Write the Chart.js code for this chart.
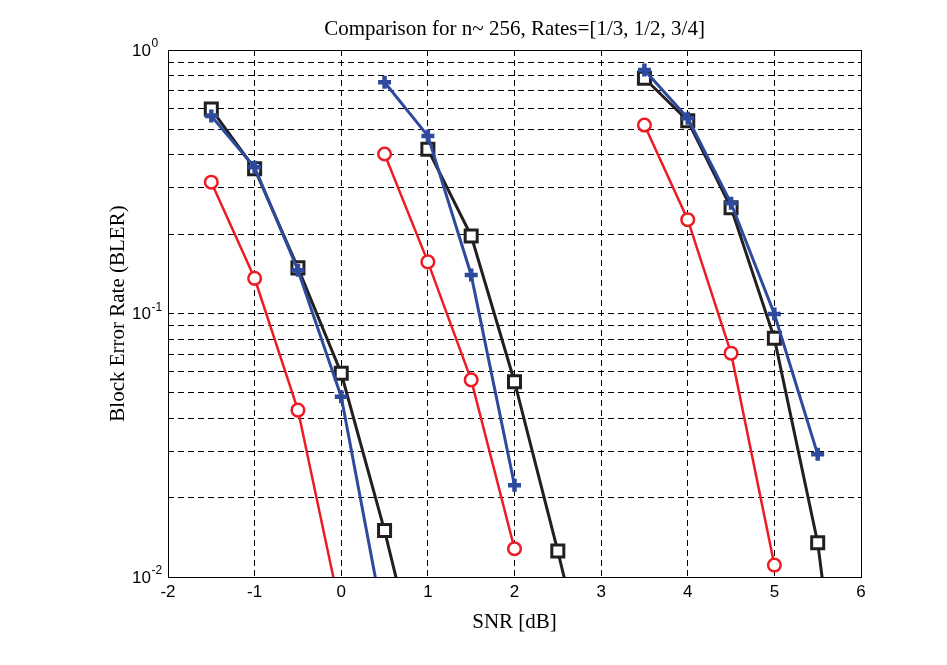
<!DOCTYPE html>
<html>
<head>
<meta charset="utf-8">
<script src="https://cdn.jsdelivr.net/npm/chart.js@4/dist/chart.umd.min.js"></script>
<style>
  html, body { margin: 0; padding: 0; background: #ffffff; }
  #c { display: block; }
</style>
</head>
<body>
<canvas id="c" width="947" height="665"></canvas>
<script>
// ---------------- data ----------------
const chartTitle = 'Comparison for n~ 256, Rates=[1/3, 1/2, 3/4]';
const xTitle = 'SNR [dB]';
const yTitle = 'Block Error Rate (BLER)';

const xTickValues = [-2, -1, 0, 1, 2, 3, 4, 5, 6];
const xTickLabels = ['-2', '-1', '0', '1', '2', '3', '4', '5', '6'];
const yDecadeValues = [0.01, 0.1, 1];
const yDecadeBase = ['10', '10', '10'];
const yDecadeExp = ['-2', '-1', '0'];
const yGridValues = [0.01, 0.02, 0.03, 0.04, 0.05, 0.06, 0.07, 0.08, 0.09,
                     0.1, 0.2, 0.3, 0.4, 0.5, 0.6, 0.7, 0.8, 0.9, 1];

// Rate 1/3
const red13X   = [-1.5, -1, -0.5, 0];
const red13Y   = [0.315, 0.136, 0.043, 0.0072];
const blue13X  = [-1.5, -1, -0.5, 0, 0.5];
const blue13Y  = [0.562, 0.359, 0.146, 0.0483, 0.0065];
const black13X = [-1.5, -1, -0.5, 0, 0.5, 1];
const black13Y = [0.597, 0.354, 0.149, 0.0593, 0.0150, 0.0032];

// Rate 1/2
const red12X   = [0.5, 1, 1.5, 2];
const red12Y   = [0.403, 0.157, 0.056, 0.0128];
const blue12X  = [0.5, 1, 1.5, 2];
const blue12Y  = [0.754, 0.472, 0.140, 0.0223];
const black12X = [1, 1.5, 2, 2.5, 3];
const black12Y = [0.42, 0.197, 0.0551, 0.01255, 0.0026];

// Rate 3/4
const red34X   = [3.5, 4, 4.5, 5];
const red34Y   = [0.519, 0.227, 0.0707, 0.0111];
const blue34X  = [3.5, 4, 4.5, 5, 5.5];
const blue34Y  = [0.839, 0.551, 0.262, 0.0995, 0.0292];
const black34X = [3.5, 4, 4.5, 5, 5.5, 6];
const black34Y = [0.781, 0.539, 0.252, 0.0805, 0.0135, 0.0007];

// ---------------- styling ----------------
const Y_MIN = 0.01, Y_MAX = 1;
const RED = '#ec1c24', BLUE = '#2e4a9c', BLACK = '#231f20';
const SERIF = "'Liberation Serif', 'Times New Roman', serif";
const SANS = "'Liberation Sans', Arial, sans-serif";

function pts(xs, ys) { return xs.map((x, i) => ({ x: x, y: ys[i] })); }

function series(xs, ys, kind) {
  const base = {
    data: pts(xs, ys),
    showLine: true,
    fill: false,
    tension: 0,
    clip: 0,
    pointBackgroundColor: '#ffffff',
  };
  if (kind === 'red') {
    return Object.assign(base, {
      borderColor: RED, borderWidth: 2.5,
      pointStyle: 'circle', pointBorderColor: RED, pointBorderWidth: 2.5,
      pointRadius: c => (c.raw && c.raw.y < Y_MIN) ? 0 : 6.3,
    });
  }
  if (kind === 'blue') {
    return Object.assign(base, {
      borderColor: BLUE, borderWidth: 3,
      pointStyle: 'cross', pointBorderColor: BLUE, pointBorderWidth: 4.5,
      pointRadius: c => (c.raw && c.raw.y < Y_MIN) ? 0 : 6.5,
    });
  }
  return Object.assign(base, {
    borderColor: BLACK, borderWidth: 3,
    pointStyle: 'rect', pointBorderColor: BLACK, pointBorderWidth: 3,
    pointRadius: c => (c.raw && c.raw.y < Y_MIN) ? 0 : 8.5,
  });
}

const datasets = [
  series(red13X, red13Y, 'red'),
  series(blue13X, blue13Y, 'blue'),
  series(black13X, black13Y, 'black'),
  series(red12X, red12Y, 'red'),
  series(blue12X, blue12Y, 'blue'),
  series(black12X, black12Y, 'black'),
  series(red34X, red34Y, 'red'),
  series(blue34X, blue34Y, 'blue'),
  series(black34X, black34Y, 'black'),
];

// Draws the box and the "10^k" y labels with superscripts.
const framePlugin = {
  id: 'frame',
  afterDraw(chart) {
    const ctx = chart.ctx;
    const a = chart.chartArea;
    const ys = chart.scales.y;
    ctx.save();
    ctx.strokeStyle = '#000';
    ctx.lineWidth = 1;
    ctx.setLineDash([]);
    ctx.strokeRect(Math.round(a.left) + 0.5, Math.round(a.top) + 0.5,
                   Math.round(a.right - a.left), Math.round(a.bottom - a.top));
    ctx.fillStyle = '#000';
    yDecadeValues.forEach((v, i) => {
      const py = ys.getPixelForValue(v);
      const xr = a.left - 17;
      ctx.font = '17px ' + SANS;
      ctx.textAlign = 'right';
      ctx.textBaseline = 'middle';
      ctx.fillText(yDecadeBase[i], xr, py + 1);
      ctx.font = '12px ' + SANS;
      ctx.textAlign = 'left';
      ctx.textBaseline = 'alphabetic';
      ctx.fillText(yDecadeExp[i], xr + 0.5, py - 3);
    });
    ctx.restore();
  }
};

new Chart(document.getElementById('c'), {
  type: 'line',
  data: { datasets: datasets },
  plugins: [framePlugin],
  options: {
    responsive: false,
    animation: false,
    devicePixelRatio: 1,
    layout: { padding: { left: 0, right: 86, top: 0, bottom: 0 } },
    plugins: {
      legend: { display: false },
      tooltip: { enabled: false },
      title: {
        display: true,
        text: chartTitle,
        fullSize: false,
        color: '#000',
        font: { family: SERIF, size: 21, weight: 'normal' },
        padding: { top: 16.4, bottom: 8.4 },
      },
    },
    scales: {
      x: {
        type: 'linear',
        position: 'bottom',
        min: -2, max: 6,
        afterBuildTicks: s => { s.ticks = xTickValues.map(v => ({ value: v })); },
        afterFit: s => { s.height = 88; },
        ticks: {
          autoSkip: false,
          maxRotation: 0,
          padding: 5,
          color: '#000',
          font: { family: SANS, size: 17 },
          callback: (v) => { const i = xTickValues.indexOf(v); return i >= 0 ? xTickLabels[i] : ''; },
        },
        grid: { color: '#000', lineWidth: 1, drawTicks: false },
        border: { display: false, dash: [6, 4] },
        title: {
          display: true, text: xTitle, color: '#000',
          font: { family: SERIF, size: 21, weight: 'normal' },
          padding: { top: 0, bottom: 30.4 },
        },
      },
      y: {
        type: 'logarithmic',
        position: 'left',
        min: Y_MIN, max: Y_MAX,
        afterBuildTicks: s => { s.ticks = yGridValues.map(v => ({ value: v })); },
        afterFit: s => { s.width = 168; },
        ticks: {
          autoSkip: false,
          color: '#000',
          font: { family: SANS, size: 17 },
          callback: () => '',
        },
        grid: { color: '#000', lineWidth: 1, drawTicks: false },
        border: { display: false, dash: [6, 4] },
        title: {
          display: true, text: yTitle, color: '#000',
          font: { family: SERIF, size: 21, weight: 'normal' },
          padding: { top: 105.4, bottom: 0 },
        },
      },
    },
  },
});
</script>
</body>
</html>
